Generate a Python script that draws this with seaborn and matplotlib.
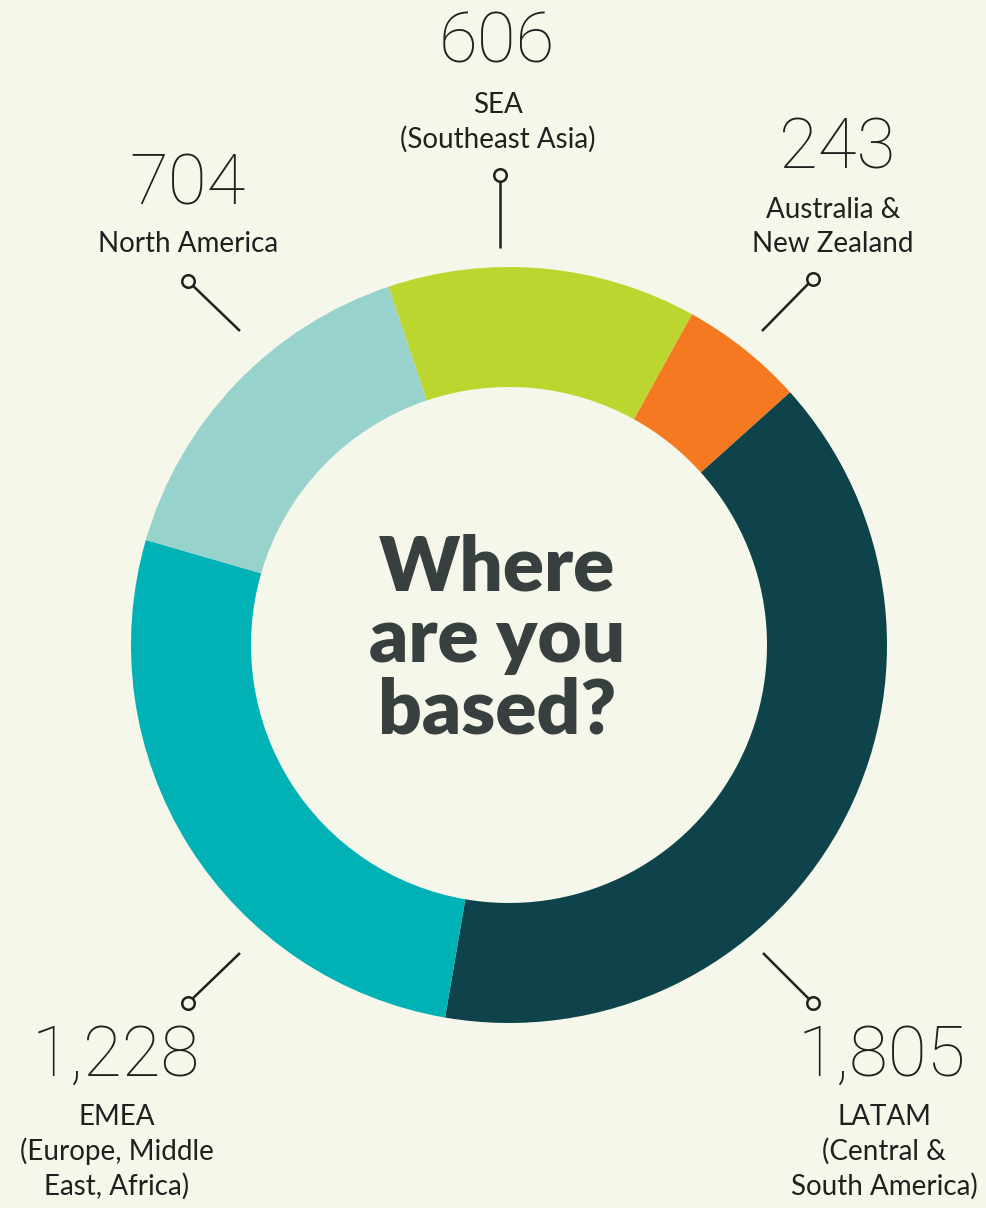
# Libraries
import matplotlib
matplotlib.use('Agg')
import seaborn as sns
import matplotlib.pyplot as plt

# Data (clockwise from the top-left of the ring)
regions = ['SEA', 'Australia & NZ', 'LATAM', 'EMEA', 'North America']
counts = [606, 243, 1805, 1228, 704]
names = ['SEA\n(Southeast Asia)', 'Australia &\nNew Zealand',
         'LATAM\n(Central &\nSouth America)',
         'EMEA\n(Europe, Middle\nEast, Africa)', 'North America']
colors = ['#BCD630', '#F47920', '#0E434C', '#00B2B5', '#97D3CC']

bg = '#F5F7EA'
ink = '#231F20'
W, H = 986, 1208

sns.set_theme(style='white')
plt.rcParams['font.family'] = ['Lato', 'DejaVu Sans']

fig = plt.figure(figsize=(W / 100, H / 100), dpi=100, facecolor=bg)
ax = fig.add_axes([0, 0, 1, 1])
ax.set_facecolor(bg)

# Donut
cx, cy, r = 509, H - 645, 378
ax.pie(counts, colors=colors, startangle=108.6, counterclock=False,
       center=(cx, cy), radius=r,
       wedgeprops=dict(width=120, linewidth=0))
ax.set_xlim(0, W)
ax.set_ylim(0, H)
ax.set_aspect('equal')
ax.axis('off')

ax.text(497, H - 640, 'Where\nare you\nbased?', ha='center', va='center',
        fontsize=55, fontweight='heavy', color='#383F3F', linespacing=1.02)

# label layout: number centre, name centre, connector (dot, end)
layout = {
    'SEA': ((497, 43), (498, 122), (500, 175), (500, 248)),
    'Australia & NZ': ((837, 149), (833, 227), (813, 279), (762, 331)),
    'LATAM': ((882, 1056), (884, 1152), (813, 1003), (763, 953)),
    'EMEA': ((116, 1056), (117, 1152), (188, 1003), (240, 953)),
    'North America': ((188, 185), (188, 244), (188, 281), (240, 331)),
}

for reg, val, name in zip(regions, counts, names):
    (nx, ny), (lx, ly), (dx, dy), (ex, ey) = layout[reg]
    ax.text(nx, H - ny, f'{val:,}', ha='center', va='center',
            fontsize=51, fontweight='light', color=ink,
            family=['Roboto', 'DejaVu Sans'])
    ax.text(lx, H - ly, name, ha='center', va='center',
            fontsize=20, color=ink, linespacing=1.35)
    ax.plot([dx, ex], [H - dy, H - ey], color=ink, lw=1.8,
            solid_capstyle='butt')
    ax.plot(dx, H - dy, 'o', ms=9, mfc=bg, mec=ink, mew=1.8)

plt.savefig('out.png', dpi=100, facecolor=bg)
